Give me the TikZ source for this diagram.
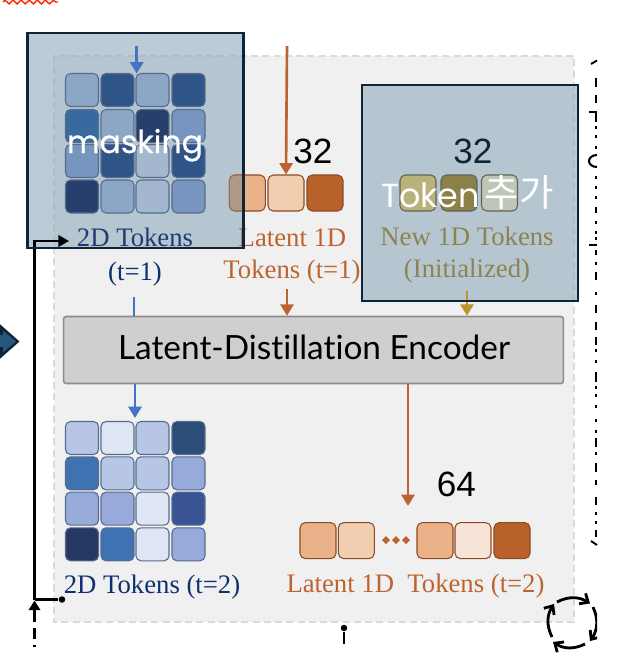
\documentclass[tikz,border=0pt]{standalone}
\usepackage{fontspec}
\setmainfont{Liberation Serif}
\setsansfont{Liberation Sans}
\newfontfamily\encfont[Ligatures=NoCommon]{Lato}
\newfontfamily\maskfont{Poppins}
\newfontfamily\maskheavy[FakeBold=0.6]{Poppins}
\newfontfamily\krfont{Noto Sans CJK KR}
\usetikzlibrary{arrows.meta,decorations.pathmorphing}
\definecolor{ink}{HTML}{0F2537}
\definecolor{panelfill}{HTML}{F0F0F0}
\definecolor{paneldash}{HTML}{DADADA}
\definecolor{veil}{HTML}{8EAABC}
\definecolor{navy}{HTML}{0F2F6F}
\definecolor{tokblue}{HTML}{4472C4}
\definecolor{rust}{HTML}{BC6430}
\definecolor{gold}{HTML}{BD952E}
\definecolor{olive}{HTML}{8C8450}
\definecolor{encfill}{HTML}{D0CECF}
\definecolor{encline}{HTML}{8E8C8D}
\definecolor{gridline}{HTML}{566C8E}
\definecolor{diamondfill}{HTML}{24567E}
% masked tokens (t=1)
\definecolor{mA}{HTML}{8CA6C6}
\definecolor{mB}{HTML}{2F5488}
\definecolor{mC}{HTML}{386A9F}
\definecolor{mD}{HTML}{263F6C}
\definecolor{mE}{HTML}{7895BF}
\definecolor{mF}{HTML}{A3B7CE}
% tokens (t=2)
\definecolor{bA}{HTML}{B7C6E5}
\definecolor{bB}{HTML}{DEE5F3}
\definecolor{bC}{HTML}{2B4D78}
\definecolor{bD}{HTML}{3F72B0}
\definecolor{bE}{HTML}{97AADA}
\definecolor{bF}{HTML}{395494}
\definecolor{bG}{HTML}{253763}
% latent and new tokens
\definecolor{oA}{HTML}{E9B288}
\definecolor{oB}{HTML}{F2CEB0}
\definecolor{oC}{HTML}{B8612A}
\definecolor{oD}{HTML}{F8E4D6}
\definecolor{oV}{HTML}{AE9A85}
\definecolor{rustV}{HTML}{8F6C52}
\definecolor{nA}{HTML}{B8B27A}
\definecolor{nB}{HTML}{8A8048}
\definecolor{nC}{HTML}{BFC6B5}
\tikzset{
  gridtile/.style={draw=gridline, line width=0.6pt, rounded corners=2.8pt, minimum size=0.66cm, inner sep=0pt},
  rowtile/.style={draw=rust!75!black, line width=0.6pt, rounded corners=3pt, minimum size=0.72cm, inner sep=0pt},
  newtile/.style={draw=black!50!nC, line width=0.6pt, rounded corners=3pt, minimum size=0.72cm, inner sep=0pt},
  serif14/.style={anchor=base, font=\fontsize{15.2}{16}\selectfont},
  count20/.style={anchor=base, font=\sffamily\fontsize{20}{22}\selectfont},
  flow/.style={line width=1.5pt, -{Triangle[length=6.5pt,width=7.5pt]}},
  wire/.style={black, line width=1.3pt},
  veilbox/.style={draw=ink, line width=1.7pt},
}
\begin{document}
\begin{tikzpicture}[x=0.02cm, y=-0.02cm]
  \clip (0,0) rectangle (622,660);
  \fill[white] (0,0) rectangle (622,660);

  % red squiggle at the top edge
  \draw[red!70!orange, line width=0.8pt, decorate, decoration={zigzag, segment length=4.6pt, amplitude=1.1pt}] (3,2) -- (58,2);

  % panel
  \fill[panelfill] (54,56) rectangle (574,622);
  \draw[paneldash, line width=1.1pt, dash pattern=on 4pt off 2.4pt] (54,56) rectangle (574,622);

  % left diamond
  \fill[ink] (-6,319) -- (19.5,341.5) -- (-6,364) -- cycle;
  \fill[diamondfill] (-6,323) -- (16,341.5) -- (-6,360) -- cycle;
  \fill[ink] (0,327) rectangle (3,335);
  \fill[ink] (0,347) rectangle (3,355);

  % side text, cut off at the edge
  \foreach \ya/\yb in {78/87,95/103,126/128.5,135/137.5,146/148.5,176/178.5,186/188.5,196/198.5,207/213,221/223.5,231/233.5,237/239.5,250/255,262/264.5,272/280,292/294.5,305/313,322/330,337/345,349/351.5,360/362.5,372/382,386/388.5,394/396.5,405/408,419/421.5,430/433,438/447,452/454.5,463/472,480/485,497/505,512/514.5,521/523.5,530/537}
    \fill[black] (594.5,\ya) rectangle (597,\yb);
  \draw[black, line width=1pt] (589,112) -- (597,112) (596,112) -- (596,122);
  \draw[black, line width=1pt] (589,245) -- (597,245);
  \draw[black, line width=1.2pt] (597,155) arc[start angle=90, end angle=270, x radius=8, y radius=-6];
  \draw[black, line width=1.1pt] (591,64) -- (597,60.5);
  \draw[black, line width=1.1pt] (591,541) -- (597,545);

  % latent row t=1, under the veil
  \foreach \tname/\tx/\tc in {latA/247.3/oA, latB/286/oB, latC/325/oC}
    \node[rowtile, fill=\tc] (\tname) at (\tx,193) {};
  \node[serif14, rust] (latlabelA) at (292.5,246) {Latent 1D};
  \node[serif14, rust] (latlabelB) at (292,278) {Tokens (t=1)};

  % veils
  \fill[veil, fill opacity=0.6] (26,32) rectangle (244,248);
  \fill[veil, fill opacity=0.6] (361,85) rectangle (578,301);

  % the part of the row seen through the veil
  \begin{scope}
    \clip (224,165) rectangle (244,250);
    \node[rowtile, fill=oV, draw=rustV] (latAveiled) at (247.3,193) {};
    \node[serif14, rustV] (latlabelVeiled) at (292.5,246) {Latent 1D};
  \end{scope}

  % encoder
  \node[draw=encline, fill=encfill, line width=0.9pt, rounded corners=1.5pt, minimum width=10cm, minimum height=1.34cm, inner sep=0pt] (enc) at (313.5,350) {};
  \node[anchor=base, font=\encfont\fontsize{19}{21}\selectfont, black] (enclabel) at (314,359) {Latent-Distillation Encoder};

  % masked grid t=1
  \foreach \tname/\tx/\ty/\tc in {
    mA1/82/90/mA, mA2/117.5/90/mB, mA3/152.5/90/mA, mA4/188.5/90/mB,
    mB1/82/126/mC, mB2/117.5/126/mA, mB3/152.5/126/mD, mB4/188.5/126/mE,
    mC1/82/161/mE, mC2/117.5/161/mB, mC3/152.5/161/mF, mC4/188.5/161/mB,
    mD1/82/196.5/mD, mD2/117.5/196.5/mA, mD3/152.5/196.5/mF, mD4/188.5/196.5/mE}
    \node[gridtile, fill=\tc] (\tname) at (\tx,\ty) {};
  \node[serif14, navy!85!gray] (gridlabelA) at (135,246) {2D Tokens};
  \node[serif14, navy] (gridlabelB) at (135,280) {(t=1)};

  % grid t=2
  \foreach \tname/\tx/\ty/\tc in {
    bA1/82/438/bA, bA2/117.5/438/bB, bA3/152.5/438/bA, bA4/188.5/438/bC,
    bB1/82/473.3/bD, bB2/117.5/473.3/bA, bB3/152.5/473.3/bA, bB4/188.5/473.3/bE,
    bC1/82/508.7/bE, bC2/117.5/508.7/bE, bC3/152.5/508.7/bB, bC4/188.5/508.7/bF,
    bD1/82/544.3/bG, bD2/117.5/544.3/bD, bD3/152.5/544.3/bB, bD4/188.5/544.3/bE}
    \node[gridtile, fill=\tc] (\tname) at (\tx,\ty) {};
  \node[serif14, navy] (gridlabelC) at (152,593) {2D Tokens (t=2)};

  % new tokens
  \foreach \tname/\tx/\tc in {newA/418/nA, newB/459/nB, newC/499.5/nC}
    \node[newtile, fill=\tc] (\tname) at (\tx,193) {};
  \node[serif14, olive] (newlabelA) at (467,245) {New 1D Tokens};
  \node[serif14, olive] (newlabelB) at (467,277) {(Initialized)};

  % latent row t=2
  \foreach \tname/\tx/\tc in {outA/318/oA, outB/356.3/oB, outC/435/oA, outD/473/oD, outE/512/oC}
    \node[rowtile, fill=\tc] (\tname) at (\tx,540.6) {};
  \foreach \dx in {386,396,406}
    \fill[rust] (\dx,536) -- (\dx+4,540) -- (\dx,544) -- (\dx-4,540) -- cycle;
  \node[serif14, rust] (outlabel) at (415.5,592) {Latent 1D\ \ Tokens (t=2)};

  % counts
  \node[count20, black] (countA) at (313,163) {32};
  \node[count20, ink] (countB) at (473,163) {32};
  \node[count20, black] (countC) at (456.5,496) {64};

  % flows
  \coordinate (blueTop) at (136.7,46);
  \coordinate (blueEnd) at (136.7,73.5);
  \coordinate (rustTop) at (287,46);
  \coordinate (blueStub) at (134,297);
  \coordinate (rustStub) at (287,289);
  \coordinate (goldStub) at (467,291);
  \coordinate (blueIn) at (135,418);
  \coordinate (rustIn) at (408,506);
  \draw[flow, tokblue] (blueTop) -- (blueEnd);
  \draw[flow, rust] (rustTop) -- (latB.north);
  \draw[tokblue, line width=1.5pt] (blueStub) -- (blueStub |- enc.north);
  \draw[flow, rust] (rustStub) -- (rustStub |- enc.north);
  \draw[flow, gold] (goldStub) -- (goldStub |- enc.north);
  \draw[flow, tokblue] (enc.south -| blueIn) -- (blueIn);
  \draw[flow, rust] (enc.south -| rustIn) -- (rustIn);

  % black wires
  \coordinate (wireCorner) at (34.5,241);
  \coordinate (wireEnd) at (69,241);
  \coordinate (wireFoot) at (34.5,599.5);
  \coordinate (dashFoot) at (34.5,647);
  \coordinate (dashTip) at (34.5,600.5);
  \node[circle, fill=black, inner sep=0pt, minimum size=0.13cm] (wireDot) at (62,599.5) {};
  \draw[wire, -{Triangle[length=6pt,width=6.5pt]}] (wireFoot) -- (wireCorner) -- (wireEnd);
  \draw[wire] (wireFoot) -- (wireDot);
  \draw[wire, dash pattern=on 1pt off 3.6pt on 6pt off 3.6pt on 12pt, -{Triangle[length=5.5pt,width=6.5pt]}] (dashFoot) -- (dashTip);
  \node[circle, fill=black, inner sep=0pt, minimum size=0.13cm] (stubDot) at (344,628) {};
  \coordinate (stubEnd) at (344,644);
  \draw[wire, line width=1.5pt] (stubDot) -- (stubEnd);

  % cycle icon
  \coordinate (cycA) at (557,602);
  \coordinate (cycB) at (590,603.5);
  \coordinate (cycC) at (593,607);
  \coordinate (cycD) at (590,641);
  \coordinate (cycE) at (585,644);
  \coordinate (cycF) at (553,642);
  \coordinate (cycG) at (552,637);
  \coordinate (cycH) at (554,604);
  \begin{scope}[line width=1.6pt, black, -{Straight Barb[length=4pt,width=7pt]}]
    \clip (530,590) rectangle (597,660);
    \draw (cycA) to[bend left=30] (cycB);
    \draw (cycC) to[bend left=30] (cycD);
    \draw (cycE) to[bend left=30] (cycF);
    \draw (cycG) to[bend left=30] (cycH);
  \end{scope}

  % veil borders and their captions
  \draw[veilbox] (27.5,33) rectangle (243.5,248);
  \draw[veilbox] (362,85) rectangle (578,301);
  \node[anchor=base, white, font=\maskheavy\fontsize{18}{20}\selectfont] (maskcap) at (135,153) {masking};
  \node[anchor=base west, white, inner sep=0pt, font=\maskfont\fontsize{19}{22}\selectfont] (tokencap) at (381,207) {Token};
  \node[anchor=base west, white, inner sep=0pt, font=\krfont\fontsize{21.3}{24}\selectfont] (tokenkr) at (484.5,206) {추가};
\end{tikzpicture}
\end{document}
